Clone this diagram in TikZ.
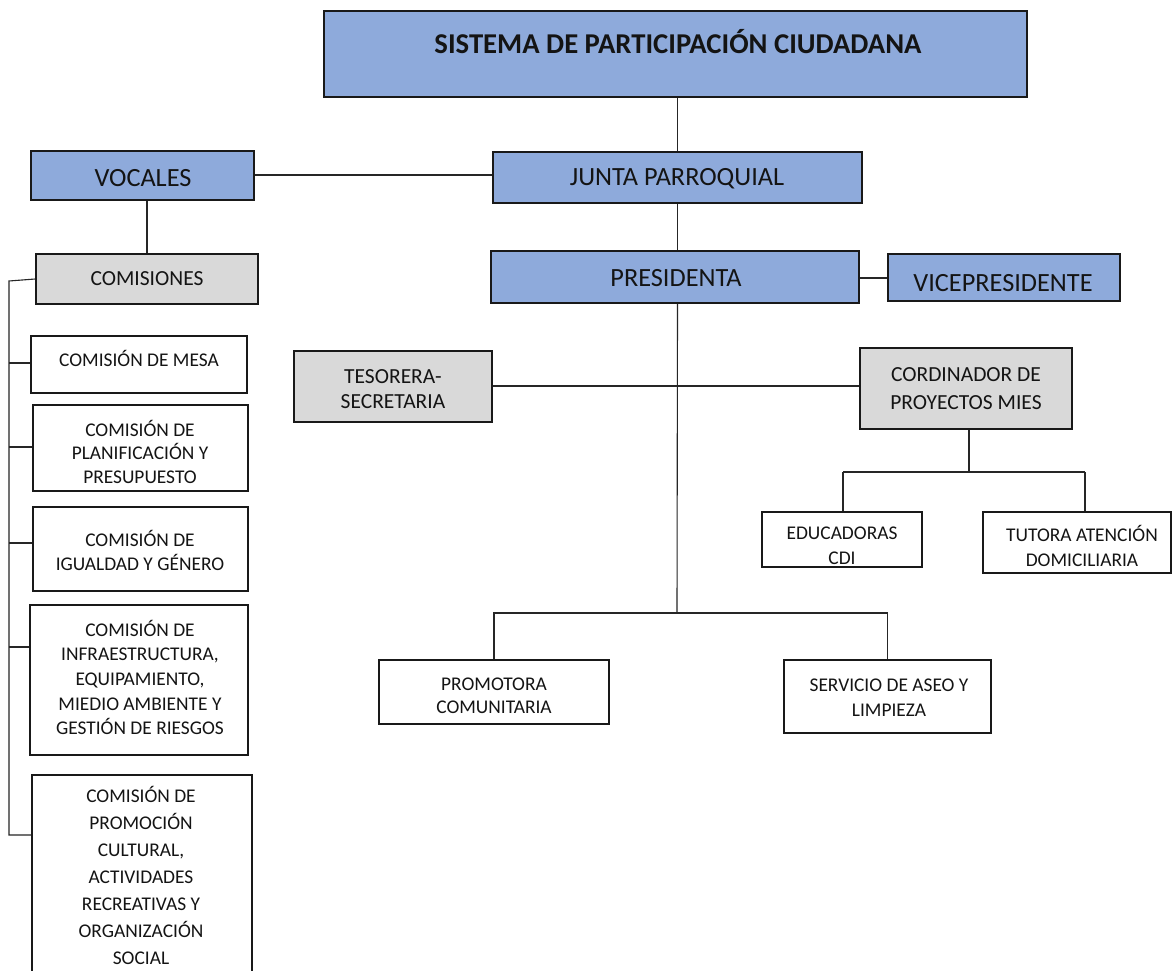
\documentclass[tikz,border=0pt]{standalone}
\usepackage{fontspec}
\setmainfont{Carlito}
\definecolor{boxblue}{HTML}{8EAADB}
\definecolor{boxgray}{HTML}{D9D9D9}
\newcommand\fsbody[1]{\fontsize{19.4}{#1}\selectfont}
\newcommand\fsmid[1]{\fontsize{21.5}{#1}\selectfont}
\newcommand\fsbig{\fontsize{26.3}{30}\selectfont}
\newcommand\fstitle{\fontsize{28.7}{33}\selectfont\bfseries}
\tikzset{
  bx/.style={draw=black!90, line width=1.7pt, inner sep=0pt},
  bluebox/.style={bx, fill=boxblue},
  graybox/.style={bx, fill=boxgray},
  whitebox/.style={bx, fill=white},
  txt/.style={inner sep=0pt, align=center, text=black!92},
  conn/.style={draw=black!85, line width=1.1pt},
}
\begin{document}
\begin{tikzpicture}[x=1pt, y=-1pt]
\useasboundingbox (0,0) rectangle (1172,971);
\clip (0,0) rectangle (1172,971);
\fill[white] (0,0) rectangle (1172,971);

% boxes
\node[bluebox, minimum width=703, minimum height=86] (title) at (675.5,54) {};
\node[bluebox, minimum width=223, minimum height=49] (vocales) at (142.5,175.5) {};
\node[bluebox, minimum width=369, minimum height=51] (junta) at (677.5,177.5) {};
\node[graybox, minimum width=222, minimum height=50] (comisiones) at (147,279) {};
\node[bluebox, minimum width=368, minimum height=52] (presidenta) at (675,277) {};
\node[bluebox, minimum width=232, minimum height=47] (vice) at (1004,277.5) {};
\node[graybox, minimum width=198, minimum height=71] (tesorera) at (393,386.5) {};
\node[graybox, minimum width=212, minimum height=81] (cordinador) at (966,388.5) {};
\node[whitebox, minimum width=160, minimum height=55] (educ) at (842,539.5) {};
\node[whitebox, minimum width=188, minimum height=61] (tutora) at (1077,542.5) {};
\node[whitebox, minimum width=230, minimum height=64] (promotora) at (494,692) {};
\node[whitebox, minimum width=207, minimum height=73] (servicio) at (887.5,696.5) {};
\node[whitebox, minimum width=216, minimum height=57] (c1) at (139,364.5) {};
\node[whitebox, minimum width=215, minimum height=86] (c2) at (140.5,448) {};
\node[whitebox, minimum width=215, minimum height=84] (c3) at (140.5,549) {};
\node[whitebox, minimum width=218, minimum height=150] (c4) at (139,680) {};
\node[whitebox, minimum width=220, minimum height=225] (c5) at (142,887.5) {};

% texts
\node[txt, font=\fstitle] (ttitle) at (678,42) {SISTEMA DE PARTICIPACIÓN CIUDADANA};
\node[txt, font=\fsbig] (tvocales) at (143,178) {VOCALES};
\node[txt, font=\fsbig] (tjunta) at (677,179) {JUNTA PARROQUIAL};
\node[txt, font={\fsmid{25}}] (tcomisiones) at (147,279) {COMISIONES};
\node[txt, font=\fsbig] (tpresidenta) at (676,278) {PRESIDENTA};
\node[txt, font=\fsbig] (tvice) at (1003,283) {VICEPRESIDENTE};
\node[txt, font={\fsmid{25}}] (ttesorera) at (393,389.5) {TESORERA-\\SECRETARIA};
\node[txt, font={\fsmid{28}}] (tcordinador) at (966,389) {CORDINADOR DE\\PROYECTOS MIES};
\node[txt, font={\fsbody{25}}] (teduc) at (842,545.5) {EDUCADORAS\\CDI};
\node[txt, font={\fsbody{25}}] (ttutora) at (1082,545.5) {TUTORA ATENCIÓN\\DOMICILIARIA};
\node[txt, font={\fsbody{22.5}}] (tpromotora) at (494,696) {PROMOTORA\\COMUNITARIA};
\node[txt, font={\fsbody{25}}] (tservicio) at (889,697.5) {SERVICIO DE ASEO Y\\LIMPIEZA};
\node[txt, font={\fsbody{24}}] (tc1) at (139,358) {COMISIÓN DE MESA};
\node[txt, font={\fsbody{23.5}}] (tc2) at (140,451.5) {COMISIÓN DE\\PLANIFICACIÓN Y\\PRESUPUESTO};
\node[txt, font={\fsbody{24}}] (tc3) at (140,550) {COMISIÓN DE\\IGUALDAD Y GÉNERO};
\node[txt, font={\fsbody{24.7}}] (tc4) at (140,677.5) {COMISIÓN DE\\INFRAESTRUCTURA,\\EQUIPAMIENTO,\\MIEDIO AMBIENTE Y\\GESTIÓN DE RIESGOS};
\node[txt, font={\fsbody{27}}] (tc5) at (141,875) {COMISIÓN DE\\PROMOCIÓN\\CULTURAL,\\ACTIVIDADES\\RECREATIVAS Y\\ORGANIZACIÓN\\SOCIAL};

% connectors
\coordinate (pbus) at (677,613);
\coordinate (cbus) at (969,472);
\coordinate (cl) at (843,472);
\coordinate (cr) at (1085,472);
\coordinate (lt) at (9,281);
\coordinate (lb) at (9,835);

\draw[conn] (junta.north) -- (junta.north |- title.south);
\draw[conn] (vocales.east |- 0,175) -- (junta.west |- 0,175);
\draw[conn] (comisiones.north) -- (comisiones.north |- vocales.south);
\draw[conn] (junta.south) -- (junta.south |- presidenta.north);
\draw[conn] (presidenta.east |- 0,278) -- (vice.west |- 0,278);
\draw[conn] (junta.south |- presidenta.south) -- (pbus);
\draw[conn] (tesorera.east |- 0,386) -- (cordinador.west |- 0,386);
\draw[conn] (cbus |- cordinador.south) -- (cbus);
\draw[conn] (cl) -- (cr);
\draw[conn] (cl) -- (cl |- educ.north);
\draw[conn] (cr) -- (cr |- tutora.north);
\draw[conn] (promotora.north) -- (promotora.north |- pbus) -- (servicio.north |- pbus) -- (servicio.north);
\draw[conn] (comisiones.west) -- (lt) -- (lb) -- (lb -| c5.west);
\draw[conn] (lt |- 0,363) -- (c1.west |- 0,363);
\draw[conn] (lt |- 0,447) -- (c2.west |- 0,447);
\draw[conn] (lt |- 0,543) -- (c3.west |- 0,543);
\draw[conn] (lt |- 0,647) -- (c4.west |- 0,647);
\end{tikzpicture}
\end{document}
